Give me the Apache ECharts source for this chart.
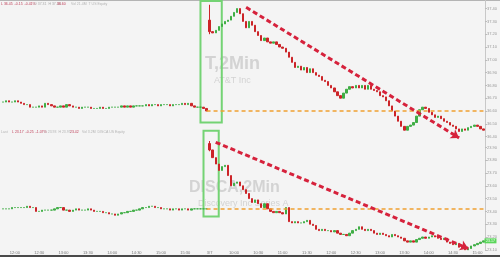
<!DOCTYPE html>
<html><head><meta charset="utf-8">
<script src="https://cdn.jsdelivr.net/npm/echarts@6/dist/echarts.min.js"></script>
<style>html,body{margin:0;padding:0;background:#f4f4f4}#c{width:500px;height:257px}</style>
</head><body><div id="c"></div>
<script>
// ---- x axis ----
const xLabels = ['12:00','12:30','13:00','13:30','14:00','14:30','15:00','15:30','3/7','10:00','10:30','11:00','11:30','12:00','12:30','13:00','13:30','14:00','14:30','15:00'];
const labelFirst = 4, labelStep = 8;

// ---- AT&T (T) closes per bar ----
const tClose = [
36.67,36.68,36.67,36.67,36.68,36.67,
36.66,36.65,36.65,36.63,36.63,
36.63,36.64,36.63,
36.66,36.65,
36.64,36.63,36.63,36.64,36.63,36.65,
36.64,36.63,36.63,36.62,36.63,36.63,
36.63,36.62,36.62,36.62,36.63,36.62,36.62,36.63,36.63,36.63,
36.63,36.64,36.63,36.64,36.63,36.64,36.64,36.64,36.64,36.65,36.64,36.65,
36.65,36.64,36.65,36.65,36.65,36.64,36.65,36.65,36.65,
36.66,36.65,36.66,
36.64,36.63,36.63,36.63,
36.62,36.60,
37.22,37.21,37.23,37.26,37.28,37.30,37.31,37.34,37.37,37.40,
37.36,37.30,37.25,37.30,37.27,37.22,37.19,37.15,37.17,37.14,
37.13,37.14,37.12,37.10,37.09,37.06,37.02,36.98,36.94,36.95,
36.92,36.94,36.90,36.93,36.90,36.88,36.87,36.84,36.83,36.80,
36.78,36.75,36.72,36.70,36.74,36.77,36.79,36.78,36.80,36.78,
36.80,36.77,36.80,36.77,36.76,36.75,36.72,36.71,36.68,36.64,
36.60,36.56,36.52,36.48,36.45,36.48,36.49,36.51,36.56,36.61,
36.63,36.62,36.59,36.57,36.55,36.56,36.54,36.52,36.51,36.49,
36.48,36.46,36.44,36.46,36.45,36.47,36.48,36.49,36.48,36.46,
36.45
];
const tSpike = {index: 68, open: 37.31, high: 37.43, low: 37.20};
const tPrevClose = 36.60;
const tTicks = [37.4,37.3,37.2,37.1,37.0,36.9,36.8,36.7,36.6,36.5,36.4];
const tTrend = [[80, 37.41], [150, 36.39]];
const tBox = [[65, 37.46], [72, 36.51]];

// ---- Discovery (DISCA) closes per bar ----
const dClose = [
23.42,23.42,23.42,23.43,23.43,23.43,23.43,23.43,23.44,23.43,23.43,
23.40,23.40,23.41,23.41,23.41,23.41,23.42,23.43,23.43,23.41,
23.41,23.40,23.41,23.42,23.41,23.41,23.41,23.42,23.41,23.40,
23.40,23.40,23.39,23.39,23.38,23.38,23.37,23.38,23.39,23.39,
23.40,23.40,23.41,23.41,23.42,23.43,23.43,23.44,23.44,23.43,
23.43,23.42,23.42,23.42,23.41,23.42,23.42,23.41,23.42,23.42,
23.41,23.42,23.42,23.42,23.42,23.42,23.42,
23.88,23.82,23.77,23.72,23.75,23.76,23.68,23.60,23.62,23.63,
23.60,23.57,23.54,23.50,23.47,23.49,23.46,23.43,23.46,23.42,
23.40,23.39,23.40,23.39,23.38,23.43,23.32,23.31,23.32,23.31,
23.31,23.32,23.33,23.30,23.29,23.26,23.25,23.26,23.25,23.25,
23.24,23.25,23.23,23.22,23.22,23.21,23.23,23.25,23.26,23.28,
23.26,23.25,23.26,23.25,23.23,23.22,23.23,23.22,23.21,23.20,
23.22,23.21,23.20,23.19,23.17,23.16,23.17,23.16,23.18,23.19,
23.20,23.19,23.20,23.21,23.20,23.19,23.18,23.19,23.16,23.15,
23.14,23.15,23.12,23.11,23.10,23.11,23.13,23.14,23.15,23.16,
23.17
];
const dSpike = {index: 68, open: 23.93, high: 23.95, low: 23.87};
const dPrevClose = 23.42;
const dTicks = [23.9,23.8,23.7,23.6,23.5,23.4,23.3,23.2,23.1];
const dTrend = [[70, 23.94], [153, 23.11]];
const dBox = [[66, 24.03], [71, 23.36]];

// ---- build candles [open, close, low, high] ----
function candles(close, spike) {
  return close.map((c, i) => {
    let o = i === 0 ? c : close[i - 1];
    let hi = Math.max(o, c), lo = Math.min(o, c);
    if (i === spike.index) { o = spike.open; hi = Math.max(spike.high, o, c); lo = Math.min(spike.low, o, c); }
    return [o, c, lo, hi];
  });
}
const cats = tClose.map((_, i) => i);
const N = cats.length;
const barW = 3.075, gridLeft = 1.16;
const gridRight = 500 - gridLeft - barW * N;

const UP = '#3fae45', DOWN = '#cc2428';
const RED_DASH = '#d6223c', ORANGE = '#f0a030', GREEN_BOX = '#74d374';

function trendLine(t) {
  return [{coord: t[0], symbol: 'none', lineStyle: {color: RED_DASH, width: 3, type: [5, 3]}},
          {coord: t[1], symbol: 'arrow', symbolSize: 8, itemStyle: {color: RED_DASH}}];
}
function prevLine(v) {
  return [{coord: [67, v], symbol: 'none', lineStyle: {color: ORANGE, width: 1.6, type: [4, 3]}},
          {coord: [N - 1, v], symbol: 'none'}];
}
function box(b) {
  return [[{coord: b[0], itemStyle: {color: 'rgba(0,0,0,0)', borderColor: GREEN_BOX, borderWidth: 2}}, {coord: b[1]}]];
}

const tMax = 36.60 + 111 / 128, tMin = 36.60 - 29 / 128;
const dMax = 23.40 + (211.4 - 128) / 128, dMin = 23.40 - 38.6 / 128;

function yAx(grid, min, max, ticks) {
  return {
    type: 'value', gridIndex: grid, position: 'right', min: min, max: max, scale: true,
    splitLine: {show: false},
    axisLine: {show: true, lineStyle: {color: '#c8c8c8', width: 1}},
    axisTick: {show: true, length: 2, customValues: ticks, lineStyle: {color: '#bbb'}},
    axisLabel: {show: true, customValues: ticks, fontSize: 4, color: '#999', margin: 2,
      fontFamily: 'Liberation Sans', formatter: v => v.toFixed(2)}
  };
}

const txt = (left, top, text, fill) => ({type: 'text', left: left, top: top,
  style: {text: text, font: '3.5px "Liberation Sans"', fill: fill}});

const option = {
  backgroundColor: '#f4f4f4',
  animation: false,
  grid: [
    {left: gridLeft, right: gridRight, top: 0, height: 140},
    {left: gridLeft, right: gridRight, top: 128, height: 122}
  ],
  xAxis: [
    {type: 'category', gridIndex: 0, data: cats, boundaryGap: true, show: false},
    {type: 'category', gridIndex: 1, data: cats, boundaryGap: true,
     axisLine: {show: false}, axisTick: {show: false},
     axisLabel: {fontSize: 4, color: '#777', margin: 1, fontFamily: 'Liberation Sans',
       interval: (idx) => idx >= labelFirst && (idx - labelFirst) % labelStep === 0,
       formatter: (v, idx) => xLabels[(idx - labelFirst) / labelStep] || ''}}
  ],
  yAxis: [yAx(0, tMin, tMax, tTicks), yAx(1, dMin, dMax, dTicks)],
  graphic: [
    {type: 'rect', shape: {x: 0, y: 0, width: 500, height: 1}, style: {fill: '#b4b4b4'}, z: -10},
    {type: 'rect', shape: {x: 0, y: 255, width: 500, height: 2}, style: {fill: '#4a4a4a'}, z: 10},
    {type: 'text', left: 205, top: 55, style: {text: 'T,2Min', font: 'bold 18px "Liberation Sans"', fill: '#d3d3d3'}, z: -5},
    {type: 'text', left: 214, top: 76, style: {text: 'AT&T Inc', font: '9px "Liberation Sans"', fill: '#d3d3d3'}, z: -5},
    {type: 'text', left: 189, top: 180, style: {text: 'DISCA,2Min', font: 'bold 16px "Liberation Sans"', fill: '#d3d3d3'}, z: -5},
    {type: 'text', left: 198, top: 199, style: {text: 'Discovery Inc Series A', font: '9px "Liberation Sans"', fill: '#d3d3d3'}, z: -5},
    txt(1, 2, 'L 36.45  -0.15  -0.41%', '#c0405a'),
    txt(34, 2, 'O 37.31  H 37.43', '#aaaaaa'),
    txt(57, 2, '36.60', '#c0405a'),
    txt(71, 2, 'Vol 21.4M  T US Equity', '#b4b4b4'),
    txt(1, 130, 'Last', '#b4b4b4'),
    txt(12, 130, 'L 23.17  -0.25  -1.07%', '#c0405a'),
    txt(44, 130, 'O 23.93  H 23.95', '#b4b4b4'),
    txt(70, 130, '23.42', '#c0405a'),
    txt(82, 130, 'Vol 3.2M  DISCA US Equity', '#b4b4b4')
  ],
  series: [
    {type: 'candlestick', xAxisIndex: 0, yAxisIndex: 0, data: candles(tClose, tSpike),
     barWidth: '60%',
     itemStyle: {color: UP, color0: DOWN, borderColor: UP, borderColor0: DOWN, borderWidth: 1},
     markArea: {silent: true, data: box(tBox)},
     markLine: {silent: true, symbol: ['none', 'none'], label: {show: false}, animation: false,
       data: [prevLine(tPrevClose), trendLine(tTrend)]}},
    {type: 'candlestick', xAxisIndex: 1, yAxisIndex: 1, data: candles(dClose, dSpike),
     barWidth: '60%',
     itemStyle: {color: UP, color0: DOWN, borderColor: UP, borderColor0: DOWN, borderWidth: 1},
     markArea: {silent: true, data: box(dBox)},
     markLine: {silent: true, symbol: ['none', 'none'], label: {show: false}, animation: false,
       data: [prevLine(dPrevClose), trendLine(dTrend)]},
     markPoint: {silent: true, data: [{coord: [N - 1, dClose[N - 1]], symbol: 'rect', symbolSize: [12, 5],
       symbolOffset: [7, 0], itemStyle: {color: '#5ad65a'},
       label: {show: true, formatter: dClose[N - 1].toFixed(2), fontSize: 3.5, color: '#fff', fontFamily: 'Liberation Sans'}}]}}
  ]
};
const chart = echarts.init(document.getElementById('c'), null, {renderer: 'canvas'});
chart.setOption(option);
</script>
</body></html>
